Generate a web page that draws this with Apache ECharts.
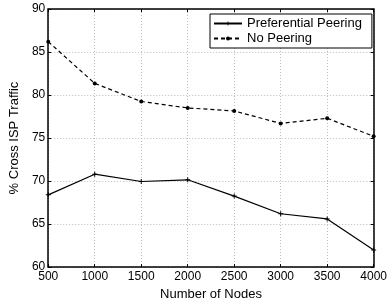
<!DOCTYPE html>
<html>
<head>
<meta charset="utf-8">
<script src="https://cdn.jsdelivr.net/npm/echarts@6/dist/echarts.min.js"></script>
<style>html,body{margin:0;padding:0;background:#fff}#c{width:390px;height:306px}</style>
</head>
<body>
<div id="c"></div>
<script>
const nodes = [500, 1000, 1500, 2000, 2500, 3000, 3500, 4000];
const preferentialPeering = [68.4, 70.8, 69.95, 70.15, 68.25, 66.2, 65.6, 62.0];
const noPeering = [86.2, 81.35, 79.25, 78.5, 78.15, 76.7, 77.3, 75.2];
const seriesNames = ['Preferential Peering', 'No Peering'];

const font = 'Liberation Sans, Arial, Helvetica, sans-serif';
const pairs = (ys) => nodes.map((x, i) => [x, ys[i]]);
const plus = 'path://M4,0H6V4H10V6H6V10H4V6H0V4H4Z';

const axisCommon = {
  axisLine: { show: true, lineStyle: { color: '#000', width: 1.5 } },
  axisTick: { show: true, inside: true, length: 3, lineStyle: { color: '#000' } },
};
const chart = echarts.init(document.getElementById('c'), null, { renderer: 'canvas' });
chart.setOption({
  animation: false,
  backgroundColor: '#fff',
  grid: { left: 46, right: 14, top: 9, bottom: 38, show: false },
  legend: {
    orient: 'vertical', left: 210, top: 14,
    backgroundColor: '#fff', borderColor: '#000', borderWidth: 1,
    padding: [3, 10, 3, 3], itemGap: 2, itemWidth: 28, itemHeight: 5,
    textStyle: { fontFamily: font, fontSize: 13, color: '#000' },
    data: seriesNames
  },
  xAxis: [{
    type: 'value', min: 500, max: 4000, interval: 500,
    name: 'Number of Nodes', nameLocation: 'middle', nameGap: 20,
    nameTextStyle: { fontFamily: font, fontSize: 13, color: '#000' },
    axisLabel: { fontFamily: font, fontSize: 12, color: '#000', margin: 4, formatter: (v) => String(v) },
    splitLine: { show: true, lineStyle: { color: '#bbb', type: [1, 2], width: 1 } },
    ...axisCommon
  }, {
    type: 'value', min: 500, max: 4000, interval: 500, position: 'top',
    axisLabel: { show: false }, splitLine: { show: false }, ...axisCommon
  }],
  yAxis: [{
    type: 'value', min: 60, max: 90, interval: 5,
    name: '% Cross ISP Traffic', nameLocation: 'middle', nameGap: 20,
    nameTextStyle: { fontFamily: font, fontSize: 13, color: '#000' },
    axisLabel: { fontFamily: font, fontSize: 12, color: '#000', margin: 3 },
    splitLine: { show: true, lineStyle: { color: '#bbb', type: [1, 2], width: 1 } },
    ...axisCommon
  }, {
    type: 'value', min: 60, max: 90, interval: 5, position: 'right',
    axisLabel: { show: false }, splitLine: { show: false }, ...axisCommon
  }],
  series: [{
    name: seriesNames[0], type: 'line', data: pairs(preferentialPeering),
    symbol: plus, symbolSize: 5, showSymbol: true,
    lineStyle: { color: '#000', width: 1.2, type: 'solid' },
    itemStyle: { color: '#000' }
  }, {
    name: seriesNames[1], type: 'line', data: pairs(noPeering),
    symbol: 'circle', symbolSize: 4, showSymbol: true,
    lineStyle: { color: '#000', width: 1.2, type: [4, 3] },
    itemStyle: { color: '#000' }
  }]
});
</script>
</body>
</html>
